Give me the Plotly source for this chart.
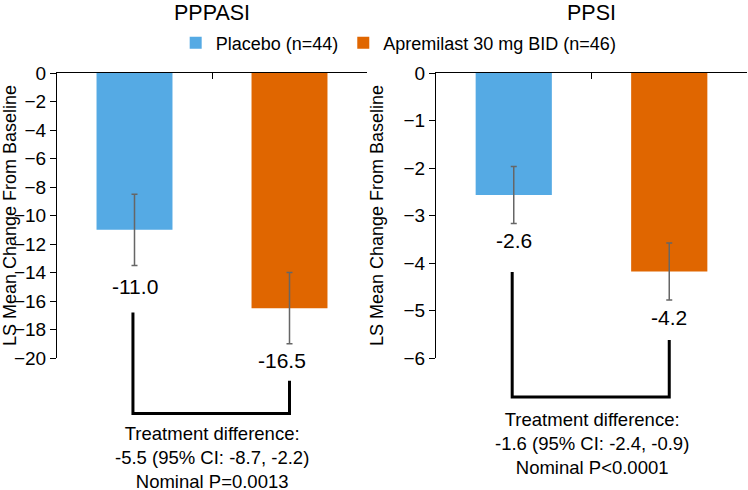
import plotly.graph_objects as go

# data
groups = ["Placebo (n=44)", "Apremilast 30 mg BID (n=46)"]
colors = ["#55AAE4", "#E06600"]
panels = ["PPPASI", "PPSI"]
ls_means = [[-11.0, -16.5], [-2.57, -4.18]]
ci_half = [[2.5, 2.5], [0.6, 0.6]]
value_labels = [["-11.0", "-16.5"], ["-2.6", "-4.2"]]
y_ranges = [[-20, 0], [-6, 0]]
y_dticks = [2, 1]
diff_texts = [
    "Treatment difference:<br>-5.5 (95% CI: -8.7, -2.2)<br>Nominal P=0.0013",
    "Treatment difference:<br>-1.6 (95% CI: -2.4, -0.9)<br>Nominal P<0.0001",
]
# bracket ends (left top, right top, bottom) in axis units
brackets = [[-16.8, -21.6, -23.9], [-4.19, -5.62, -6.82]]

W, H = 748, 490
FONT = "Liberation Sans, Arial, Helvetica, sans-serif"
x_domains = [[57 / W, 367 / W], [436 / W, 747 / W]]
y_domain = [1 - 358 / H, 1 - 73 / H]


def to_paper(v, rng):
    return y_domain[0] + (v - rng[0]) / (rng[1] - rng[0]) * (y_domain[1] - y_domain[0])


fig = go.Figure()
layout = {}
annotations = []
shapes = []

for p in range(2):
    xa = "x" if p == 0 else "x2"
    ya = "y" if p == 0 else "y2"
    for g in range(2):
        fig.add_trace(go.Bar(
            x=[groups[g]], y=[ls_means[p][g]], name=groups[g],
            marker_color=colors[g], marker_line_width=0, width=0.49,
            error_y=dict(type="data", array=[ci_half[p][g]], color="#666666",
                         thickness=1.5, width=3),
            xaxis=xa, yaxis=ya, showlegend=(p == 0), hoverinfo="skip",
        ))
        low = ls_means[p][g] - ci_half[p][g]
        annotations.append(dict(
            x=groups[g], y=low, xref=xa, yref=ya, text=value_labels[p][g],
            showarrow=False, yanchor="middle", yshift=-(21 if g == 0 and p == 0 else 17),
            xshift=-8 if (p == 0 and g == 1) else 0,
            font=dict(size=21, color="#000000", family=FONT),
        ))

    rng = y_ranges[p]
    sfx = "" if p == 0 else "2"
    layout["xaxis" + sfx] = dict(
        domain=x_domains[p], anchor=ya, side="top", type="category",
        categoryorder="array", categoryarray=groups, automargin=False,
        showticklabels=False, ticks="inside", tickson="boundaries", ticklen=6,
        tickcolor="#000000", showline=True, linecolor="#000000", linewidth=1,
        showgrid=False, zeroline=False, range=[-0.5, 1.5], fixedrange=True,
    )
    layout["yaxis" + sfx] = dict(
        domain=y_domain, anchor=xa, range=rng, dtick=y_dticks[p], tick0=0,
        automargin=False, fixedrange=True,
        ticks="outside", ticklen=6, tickcolor="#000000", showline=True,
        linecolor="#000000", linewidth=1, showgrid=False, zeroline=False,
        tickfont=dict(size=19, color="#000000", family=FONT),
        title=dict(text="LS Mean Change From Baseline",
                   font=dict(size=18, color="#000000", family=FONT)),
    )

    annotations.append(dict(
        x=0.5, y=1 - 13 / H, xref=xa + " domain", yref="paper", text=panels[p],
        showarrow=False, yanchor="middle",
        font=dict(size=21.5, color="#000000", family=FONT),
    ))

    b = brackets[p]
    x0, x1 = -0.01, 1.0
    path = "M {a},{t1} L {a},{bt} L {c},{bt} L {c},{t2}".format(
        a=x0, c=x1, t1=to_paper(b[0], rng), t2=to_paper(b[1], rng), bt=to_paper(b[2], rng))
    shapes.append(dict(type="path", path=path, xref=xa, yref="paper",
                       line=dict(color="#000000", width=3)))

    annotations.append(dict(
        x=0.5, y=to_paper(b[2], rng), xref=xa, yref="paper", text=diff_texts[p],
        showarrow=False, yanchor="top", yshift=-7 if p == 0 else -10, align="center",
        font=dict(size=18.5, color="#000000", family=FONT),
    ))

fig.update_layout(
    width=W, height=H,
    margin=dict(l=0, r=0, t=0, b=0, autoexpand=False),
    paper_bgcolor="#FFFFFF", plot_bgcolor="#FFFFFF",
    barmode="overlay",
    font=dict(family=FONT, size=18, color="#000000"),
    legend=dict(orientation="h", x=0.533, xanchor="center", y=1 - 43 / H,
                yanchor="middle", font=dict(size=18), itemwidth=30,
                bgcolor="rgba(0,0,0,0)"),
    annotations=annotations,
    shapes=shapes,
    **layout,
)

# page body has a default 8px margin; drop it so the figure sits at 0,0
fig.write_html("out.html", config={"displayModeBar": False},
               post_script="document.body.style.margin='0px';")
